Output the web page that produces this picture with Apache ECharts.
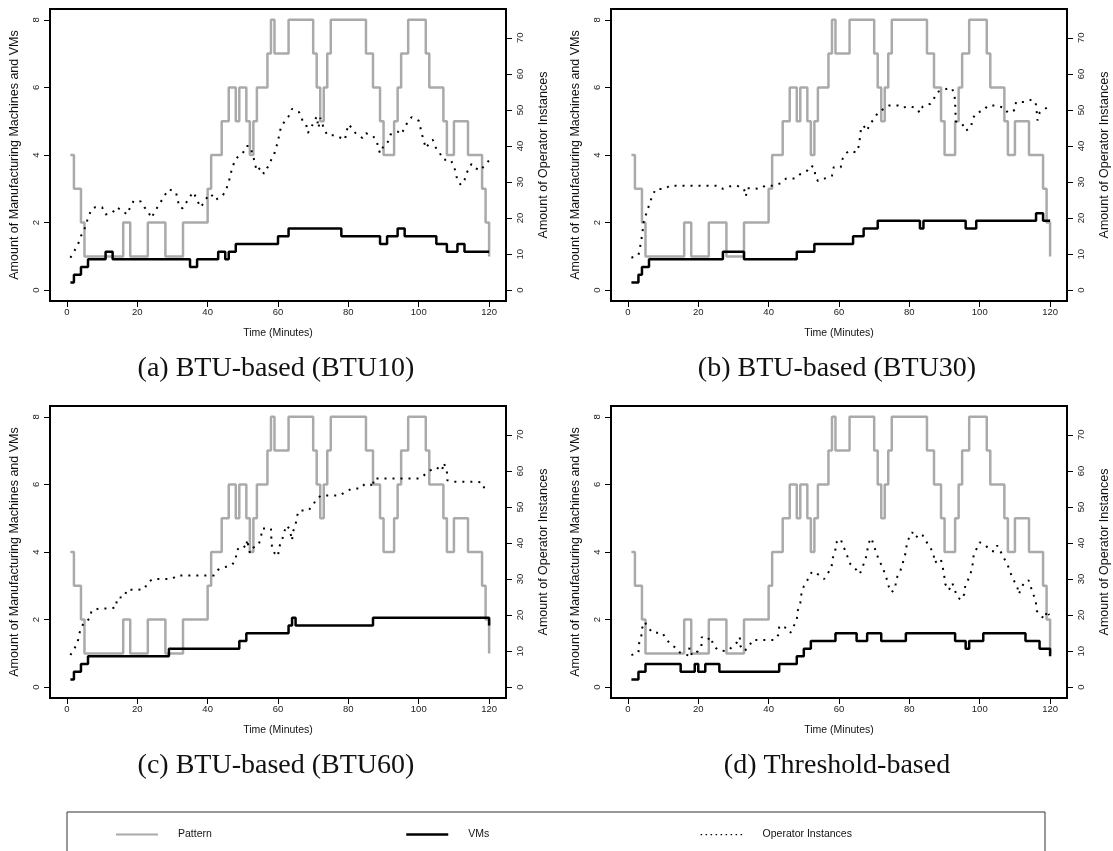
<!DOCTYPE html>
<html><head><meta charset="utf-8">
<script src="https://cdn.jsdelivr.net/npm/echarts@6/dist/echarts.min.js"></script>
<style>html,body{margin:0;padding:0;background:#fff}#c{width:1113px;height:851px}</style>
</head><body><div id="c"></div>
<script>
// ---------- DATA ----------
const xTicks = [0, 20, 40, 60, 80, 100, 120];
const leftTicks = [0, 2, 4, 6, 8];
const rightTicks = [0, 10, 20, 30, 40, 50, 60, 70];
const captions = ['(a) BTU-based (BTU10)', '(b) BTU-based (BTU30)', '(c) BTU-based (BTU60)', '(d) Threshold-based'];
const seriesNames = ['Pattern', 'VMs', 'Operator Instances'];

// Pattern (manufacturing machines) – change points (minute, value)
const patternT = [1,2,4,5,16,18,23,28,33,40,41,44,46,48,49,51,52,53,54,57,58,59,63,70,71,72,73,74,75,85,87,89,90,93,94,95,97,102,103,107,108,110,114,118,119,120];
const patternV = [4,3,2,1,2,1,2,1,2,3,4,5,6,5,6,5,4,5,6,7,8,7,8,7,6,5,6,7,8,7,6,5,4,5,6,7,8,7,6,5,4,5,4,3,2,1];

// VMs – change points (minute, number of VMs)
const vmsAT = [1,2,4,6,11,13,35,37,43,45,46,48,60,63,78,89,91,94,96,105,108,111,113,120];
const vmsAV = [1,2,3,4,5,4,3,4,5,4,5,6,7,8,7,6,7,8,7,6,5,6,5,5];
const vmsBT = [1,3,4,6,27,33,48,53,64,67,71,83,84,96,99,116,118,120];
const vmsBV = [1,2,3,4,5,4,5,6,7,8,9,8,9,8,9,10,9,9];
const vmsCT = [1,2,4,6,29,49,51,63,64,65,87,120];
const vmsCV = [1,2,3,4,5,6,7,8,9,8,9,8];
const vmsDT = [1,3,5,15,19,20,22,26,43,48,50,52,59,65,68,72,79,93,96,97,101,113,117,120];
const vmsDV = [1,2,3,2,3,2,3,2,3,4,5,6,7,6,7,6,7,6,5,6,7,6,5,4];

// Operator instances (minute, value)
const opsA = [[1,9],[2,10.7],[3,12.3],[4,15],[5,17],[6,20],[7,22.5],[8,23],[10,23],[11,21],[13,21.5],[14,23],[16,22],[17,21],[18,23],[19,24.8],[21,24.6],[22,23],[23,22],[24,20],[25,21.8],[26,23.5],[27,25],[28,26.6],[29,28],[31,27.2],[31.5,25],[32,23],[33,22.7],[34,24.4],[35,26],[36,27.2],[37,25],[38,23],[39,24.4],[40,26],[41,26.7],[42,25],[44,26],[45,27.2],[46,30],[47,34],[48,36.5],[50,38],[51,40],[52,40],[53,37],[53.5,34.8],[54,33],[55,34],[56,32.3],[57,34],[58,36],[59,38],[60,41.3],[60.5,44],[61,45.5],[62,47],[63,48.2],[64,50.3],[66,49.4],[67,47],[68,46],[68.5,43.6],[69,44.5],[70,46.2],[71,48.2],[71.5,45],[72,47.8],[73,45],[74,43],[76,43],[78,42.2],[79,41.7],[79.5,44],[80,46],[81,45],[82,43.6],[84,42.2],[85,43.6],[86,43],[87,42.7],[88,41.7],[88.5,39.4],[89,38],[90,40],[91,40.6],[92,43.2],[94,44],[95,43.2],[96,45],[97,47],[98,48],[100,47],[101,43],[102,39.4],[103,40.8],[104,41.7],[105,39.2],[106,38],[107,36.2],[109,36.2],[110,34.6],[111,30.4],[112,29.2],[113,30.6],[114,33.4],[115,35],[116,33.9],[117.5,33.2],[119,35],[120,36]];
const opsB = [[1,9],[3,9.7],[3.5,12.2],[4,15],[4.5,19],[5,20.6],[6,23.5],[7,26.4],[8,28.1],[10.5,28.1],[12,29],[15,29],[17.5,29],[20,29],[23,29],[25.5,29],[27,28.1],[29,28.8],[31,29],[33,28.1],[33.5,26],[34,28.3],[35,28.3],[37.5,28.1],[39,29],[41.5,29],[43.5,29.7],[45,31],[47.5,31],[49,32.2],[51,33.2],[52,34.6],[53,34],[53.3,31.5],[54,30.3],[56,31],[58,31.7],[58.5,34.1],[60.5,34.1],[61,36.4],[62,38],[63,38.7],[65,38.2],[65.7,40.2],[66,42.7],[66.3,45.2],[67,45.6],[68,44.2],[68.7,46.1],[70,47.5],[71,49.2],[72.7,50.3],[74.2,51.2],[76.8,51.2],[77.8,50.6],[80,51],[81.8,50.6],[83,49.2],[83.8,51],[86,51.7],[87,53.2],[88,55],[90,55.7],[92,56.1],[92.8,54.5],[93,52],[93.1,49.2],[93.2,46.8],[95,46.2],[96,44.2],[97.5,45.2],[98,47.6],[99,49.2],[101,49.8],[102.3,51.2],[104.7,51.2],[107,50.6],[108,49.2],[110,50],[110.3,52.2],[113,52.2],[114.8,52.9],[115.9,52],[116.2,49.4],[116.4,47.1],[117,49.2],[118,50.1],[120,51]];
const opsC = [[1,8.9],[2,10.5],[3,12.2],[3.5,14.7],[4,16.4],[5,18.1],[6.5,19],[7,21.2],[9,21.8],[11.6,21.8],[14,22.1],[14.2,24.7],[16.4,25.1],[17,27],[19.6,27],[22,27.2],[23,29.1],[24.5,30],[27,30],[29.8,30],[31.5,31],[34,31],[36.8,31],[39.4,31],[41.8,31],[43,32.6],[45,33.3],[47,34],[48,35.4],[48.2,37.9],[49,38.7],[50,39.3],[51,38.6],[51.2,41],[52,37.2],[53,38.7],[54.5,39.5],[55.2,41.8],[55.5,44],[58,44],[58.1,41.6],[58.3,38.8],[59,37.2],[60,36.3],[60.3,38.8],[61.2,40.9],[61.7,43],[62.5,44.9],[63.3,43.8],[64,40.7],[64.2,43],[65,45],[65.3,47.2],[66,49],[68.6,49],[70,50.5],[70.8,52.1],[72.3,53.2],[75.2,53.2],[77.7,53.2],[79,54.1],[81,55.1],[83.4,55.1],[84.7,56.4],[86.4,56.2],[87,55.4],[87.2,57.9],[89.5,57.9],[92.3,57.9],[94.8,57.9],[97.5,57.9],[100.3,57.9],[101.9,59.1],[103.4,60.2],[105,61],[106.6,60],[107.1,62.3],[108,60],[108.1,57.4],[110,57],[112.9,57],[115.5,57],[118,56.8],[118.7,55]];
const opsD = [[1,8.9],[3,9.6],[3.2,12.2],[3.8,14],[4,16.3],[4.8,18.1],[5.8,16.5],[7,15.1],[9.8,15.1],[10.8,13.5],[12.1,11.9],[14,10.7],[14.8,9.6],[17.2,8.8],[17.5,11],[18.2,8.8],[19.9,10],[20.9,11.4],[21,13.9],[22.5,13.1],[23.7,13.9],[24.2,11.7],[25.6,10.3],[28,10],[29.5,11],[31,12.4],[31.8,13.9],[32,11.4],[33,10],[34.3,11],[35.4,13.1],[37.4,13.1],[39.4,13.1],[41.7,13.1],[42.9,14.7],[43,17],[45.2,16.4],[46.2,15.1],[47,16.7],[48,18.6],[48.2,21],[49,23.3],[49.2,25.4],[50,28],[51,29.6],[51.5,31],[52.5,32.1],[54.2,31.2],[55.8,30],[56.9,31.7],[57.9,33.3],[58.1,35.6],[58.9,37.3],[59.1,40],[60.4,41.2],[61.9,37.5],[63.3,34],[64.9,32.6],[65.9,31.4],[66.7,33.3],[67.4,35.3],[68,37],[68.2,39.6],[69.2,41.4],[69.9,39.3],[70.7,37],[71.4,35.1],[72.4,33.3],[73.7,29.6],[74.2,27.7],[74.9,26.3],[76,27.4],[76.2,30],[77.3,31.9],[78,34],[79,37.5],[79.3,40],[80,41.6],[80.8,43],[81.8,41.4],[82.8,42.6],[83.8,42.1],[84.8,40.4],[85.9,38.8],[86.9,37],[87.1,34.5],[88.2,35.1],[88.9,35.6],[89.4,33.7],[89.9,31],[90.2,28.6],[91.2,26.9],[92.2,28.9],[92.9,27],[93.6,25],[94.7,24.2],[95.6,25.8],[95.9,28.3],[96.9,30.2],[97.5,31.9],[98,34.2],[98.3,36.8],[99.2,38.6],[100,40.2],[101.7,39.3],[103,37.9],[104.2,37.6],[105,39.3],[106,37.5],[107,35.6],[108,33.7],[108.6,32.1],[109.4,30],[110.6,28.2],[111.1,25.8],[111.8,27.5],[112.8,29.3],[113.9,29.6],[115.2,25.8],[115.9,24],[116.2,21.2],[117.2,20],[118.4,18.9],[119.2,21.2],[119.7,20]];

// ---------- LAYOUT ----------
const panels = [
  {left: 50, top: 9, vT: vmsAT, vV: vmsAV, ops: opsA},
  {left: 611, top: 9, vT: vmsBT, vV: vmsBV, ops: opsB},
  {left: 50, top: 406, vT: vmsCT, vV: vmsCV, ops: opsC},
  {left: 611, top: 406, vT: vmsDT, vV: vmsDV, ops: opsD}
];
const GW = 456, GH = 292;
const VM_UNIT = 0.228; // height of one VM step on the left axis
const LMIN = -0.32, LMAX = 8.32;

const zip = (t, v) => t.map((x, i) => [x, v[i]]);
const sans = 'Liberation Sans';
const grid = [], xAxis = [], yAxis = [], series = [], graphic = [];
const tickStyle = {color: '#000', width: 1};

panels.forEach((p, i) => {
  grid.push({left: p.left, top: p.top, width: GW, height: GH, show: true, borderColor: '#000', borderWidth: 2, backgroundColor: 'transparent'});
  xAxis.push({
    type: 'value', gridIndex: i, min: -4.8, max: 124.8, position: 'bottom',
    axisLine: {show: false, onZero: false}, splitLine: {show: false},
    axisTick: {show: true, length: 6, customValues: xTicks, lineStyle: tickStyle},
    axisLabel: {customValues: xTicks, fontFamily: sans, fontSize: 9.5, color: '#222', margin: 6},
    name: 'Time (Minutes)', nameLocation: 'middle', nameGap: 27,
    nameTextStyle: {fontFamily: sans, fontSize: 10.5, color: '#111'}
  });
  yAxis.push({
    type: 'value', gridIndex: i, position: 'left', min: LMIN, max: LMAX,
    axisLine: {show: false, onZero: false}, splitLine: {show: false},
    axisTick: {show: true, length: 6, customValues: leftTicks, lineStyle: tickStyle},
    axisLabel: {customValues: leftTicks, rotate: 90, fontFamily: sans, fontSize: 9.5, color: '#222', margin: 9},
    name: 'Amount of Manufacturing Machines and VMs', nameLocation: 'middle', nameGap: 29, nameRotate: 90,
    nameTextStyle: {fontFamily: sans, fontSize: 12.5, color: '#111'}
  });
  yAxis.push({
    type: 'value', gridIndex: i, position: 'right', min: -3, max: 78,
    axisLine: {show: false, onZero: false}, splitLine: {show: false},
    axisTick: {show: true, length: 6, customValues: rightTicks, lineStyle: tickStyle},
    axisLabel: {customValues: rightTicks, rotate: 90, fontFamily: sans, fontSize: 9.5, color: '#222', margin: 9},
    name: 'Amount of Operator Instances', nameLocation: 'middle', nameGap: 31, nameRotate: 90,
    nameTextStyle: {fontFamily: sans, fontSize: 12.5, color: '#111'}
  });
  yAxis.push({
    type: 'value', gridIndex: i, show: false, min: LMIN / VM_UNIT, max: LMAX / VM_UNIT,
    axisLine: {onZero: false}, splitLine: {show: false}
  });
  const yb = i * 3;
  series.push({
    name: seriesNames[0], type: 'line', xAxisIndex: i, yAxisIndex: yb, step: 'end',
    data: zip(patternT, patternV), showSymbol: false, symbol: 'none', silent: true,
    lineStyle: {color: '#aaaaaa', width: 2.5}, itemStyle: {color: '#aaaaaa'}, z: 2
  });
  series.push({
    name: seriesNames[1], type: 'line', xAxisIndex: i, yAxisIndex: yb + 2, step: 'end',
    data: zip(p.vT, p.vV), showSymbol: false, symbol: 'none', silent: true,
    lineStyle: {color: '#000', width: 2.5}, itemStyle: {color: '#000'}, z: 3
  });
  series.push({
    name: seriesNames[2], type: 'line', xAxisIndex: i, yAxisIndex: yb + 1,
    data: p.ops, showSymbol: false, symbol: 'none', silent: true,
    lineStyle: {color: '#000', width: 2, type: [2, 6]}, itemStyle: {color: '#000'}, z: 4
  });
  graphic.push({
    type: 'text', x: p.left + GW / 2 - 2, y: p.top + 360, silent: true,
    style: {text: captions[i], font: '28px "Liberation Serif"', fill: '#111', textAlign: 'center', textVerticalAlign: 'middle'}
  });
});

// legend box (open at the bottom edge)
graphic.push({type: 'rect', shape: {x: 67, y: 812, width: 978, height: 60}, style: {fill: 'none', stroke: '#333', lineWidth: 1}, silent: true});

const legendPos = [110, 400, 695];
const legendLine = [
  {color: '#aaaaaa', width: 2},
  {color: '#000', width: 2.5},
  {color: '#000', width: 1.2, type: [1.5, 3.5]}
];
const legend = seriesNames.map((n, k) => ({
  data: [n], left: legendPos[k], top: 824, itemWidth: 42, itemHeight: 14, itemGap: 0,
  itemStyle: {opacity: 0, borderWidth: 0},
  lineStyle: legendLine[k],
  textStyle: {fontFamily: sans, fontSize: 10.5, color: '#111', padding: [0, 0, 0, 15]},
  selectedMode: false
}));

const chart = echarts.init(document.getElementById('c'), null, {renderer: 'canvas'});
chart.setOption({
  animation: false, backgroundColor: '#fff',
  grid, xAxis, yAxis, series, legend, graphic
});
</script></body></html>
